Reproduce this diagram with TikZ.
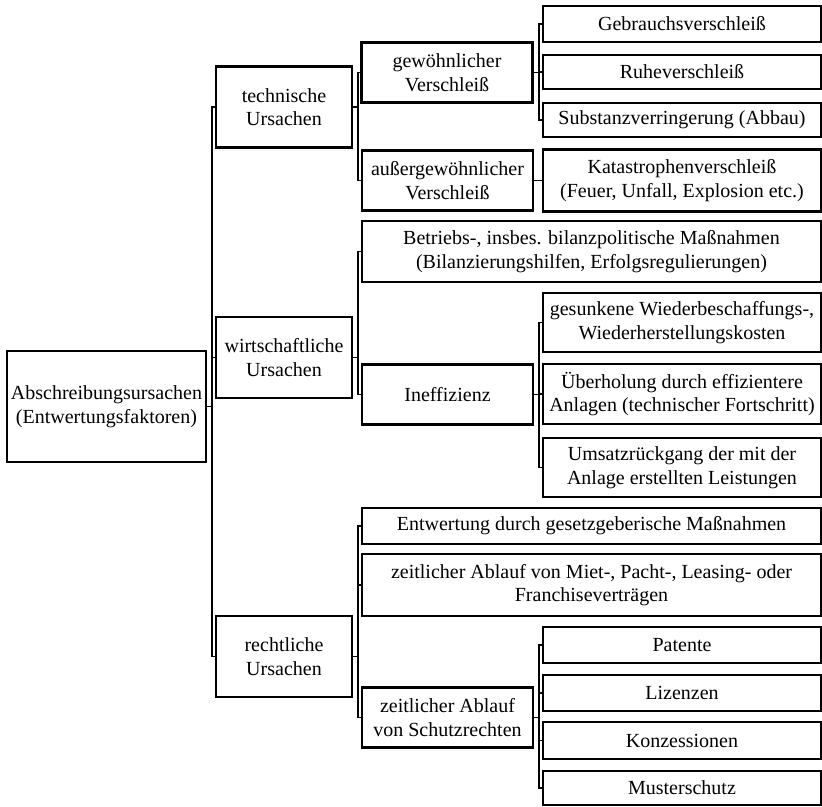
\documentclass[tikz,border=0pt]{standalone}
\usepackage{fontspec}
\setmainfont{Liberation Serif}

\begin{document}
\begin{tikzpicture}[x=1pt, y=-1pt,
  box/.style={draw, line width=2.2pt, align=center, inner sep=1pt,
    font=\fontsize{20}{23.5}\selectfont},
  cause/.style={box, minimum width=136pt, minimum height=81pt},
  mid/.style={box, minimum width=171pt, minimum height=60pt},
  wide/.style={box, minimum width=459pt},
  leaf/.style={box, minimum width=278pt},
  link/.style={line width=1.8pt}]
  \useasboundingbox (0,0) rectangle (822,806);

  \node[box, minimum width=199pt, minimum height=111pt] (root) at (106.5,406.5) {Abschreibungsursachen\\(Entwertungsfaktoren)};

  \node[cause] (tech) at (284,107) {technische\\Ursachen};
  \node[cause] (wirt) at (284,357.5) {wirtschaftliche\\Ursachen};
  \node[cause] (recht) at (284,656.5) {rechtliche\\Ursachen};

  \node[mid] (gew) at (447,72.5) {gewöhnlicher\\Verschleiß};
  \node[mid] (ausser) at (447.5,180.5) {außergewöhnlicher\\Verschleiß};
  \node[wide, minimum height=61pt] (betr) at (591.5,251.5) {Betriebs-, insbes. bilanzpolitische Maßnahmen\\(Bilanzierungshilfen, Erfolgsregulierungen)};
  \node[mid] (ineff) at (447.5,394.5) {Ineffizienz};
  \node[wide, minimum height=36pt] (entw) at (591.5,526) {Entwertung durch gesetzgeberische Maßnahmen};
  \node[wide, minimum height=62pt] (miet) at (591.5,585) {zeitlicher Ablauf von Miet-, Pacht-, Leasing- oder\\Franchiseverträgen};
  \node[mid] (schutz) at (447.5,717.5) {zeitlicher Ablauf\\von Schutzrechten};

  \node[leaf, minimum height=36pt] (gebr) at (682,24) {Gebrauchsverschleiß};
  \node[leaf, minimum height=34pt] (ruhe) at (682,72) {Ruheverschleiß};
  \node[leaf, minimum height=34pt] (subst) at (682,120) {Substanzverringerung (Abbau)};
  \node[leaf, minimum height=62pt] (kat) at (682,180.5) {Katastrophenverschleiß\\(Feuer, Unfall, Explosion etc.)};

  \node[leaf, minimum height=59pt] (ges) at (682,322.5) {gesunkene Wiederbeschaffungs-,\\Wiederherstellungskosten};
  \node[leaf, minimum height=60pt] (ueber) at (682,394) {Überholung durch effizientere\\Anlagen (technischer Fortschritt)};
  \node[leaf, minimum height=59pt] (umsatz) at (682,467.5) {Umsatzrückgang der mit der\\Anlage erstellten Leistungen};

  \node[leaf, minimum height=36pt] (pat) at (682,645) {Patente};
  \node[leaf, minimum height=36pt] (liz) at (682,693) {Lizenzen};
  \node[leaf, minimum height=37pt] (konz) at (682,740.5) {Konzessionen};
  \node[leaf, minimum height=34pt] (must) at (682,788) {Musterschutz};

  % brackets from each box to its children
  \foreach \c in {tech, wirt, recht}
    \draw[link] (root.east) -- ++(5,0) |- (\c.west);
  \foreach \c in {gew, ausser}
    \draw[link] (tech.east) -- ++(5,0) |- (\c.west);
  \foreach \c in {betr, ineff}
    \draw[link] (wirt.east) -- ++(5,0) |- (\c.west);
  \foreach \c in {entw, miet, schutz}
    \draw[link] (recht.east) -- ++(5,0) |- (\c.west);
  \foreach \c in {gebr, ruhe, subst}
    \draw[link] (gew.east) -- ++(5.5,0) |- (\c.west);
  \draw[link] (ausser.east) -- (kat.west);
  \foreach \c in {ges, ueber, umsatz}
    \draw[link] (ineff.east) -- ++(5,0) |- (\c.west);
  \foreach \c in {pat, liz, konz, must}
    \draw[link] (schutz.east) -- ++(5,0) |- (\c.west);
\end{tikzpicture}
\end{document}
